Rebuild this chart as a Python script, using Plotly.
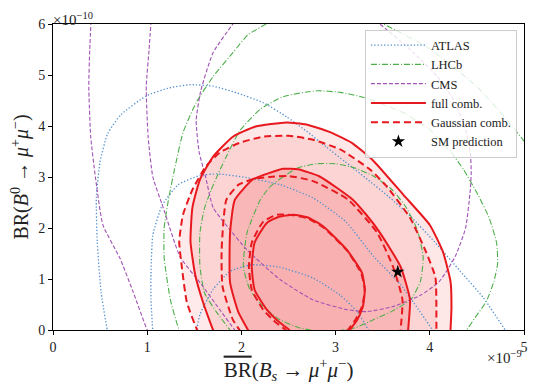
import plotly.graph_objects as go

# ── Contour points (x in units of 1e-9, y in 1e-10) ──────────────────────────
ATLAS_1_X = [1.52, 1.56, 1.70, 1.88, 2.11, 2.41, 2.76, 3.05, 3.23, 3.35, 3.38]
ATLAS_1_Y = [-0.05, 0.30, 0.80, 1.15, 1.28, 1.23, 1.02, 0.68, 0.36, 0.00, -0.05]

ATLAS_2_X = [1.06, 1.04, 1.04, 1.06, 1.16, 1.33, 1.56, 1.75, 2.05, 2.41, 2.76,
             3.11, 3.40, 3.69, 3.88, 4.03, 4.05]
ATLAS_2_Y = [-0.05, 0.60, 1.10, 1.86, 2.45, 2.85, 3.03, 3.06, 2.99, 2.85, 2.59,
             2.12, 1.45, 0.89, 0.40, 0.00, -0.05]

ATLAS_3_X = [0.58, 0.51, 0.47, 0.46, 0.50, 0.58, 0.72, 0.99, 1.24, 1.46, 1.70,
             1.95, 2.23, 2.48, 2.69, 2.90, 3.10, 3.32, 3.56, 3.80, 4.05, 4.32,
             4.57, 4.80, 4.82]
ATLAS_3_Y = [-0.05, 0.75, 1.73, 2.60, 3.30, 3.85, 4.22, 4.59, 4.75, 4.81, 4.78,
             4.65, 4.46, 4.18, 3.90, 3.59, 3.30, 2.98, 2.62, 2.22, 1.73, 1.16,
             0.63, 0.00, -0.05]

LHCB_1_X = [2.20, 2.30, 2.44, 2.60, 2.80, 3.00, 3.20, 3.40, 3.60, 3.75, 3.87,
            3.93, 3.90, 3.80, 3.60, 3.40, 3.20, 2.90, 2.62, 2.41, 2.23, 2.09,
            2.02, 2.06, 2.20]
LHCB_1_Y = [2.55, 2.80, 3.00, 3.18, 3.26, 3.26, 3.18, 3.02, 2.75, 2.40, 1.95,
            1.42, 0.95, 0.60, 0.37, 0.20, 0.04, -0.04, 0.04, 0.20, 0.46, 0.79,
            1.24, 1.91, 2.55]

LHCB_2_X = [1.90, 1.74, 1.61, 1.56, 1.56, 1.61, 1.68, 1.75, 1.84, 1.98, 2.20,
            2.45, 2.80, 3.05, 3.30, 3.72, 4.00, 4.22, 4.36, 4.50, 4.63, 4.71,
            4.72, 4.68, 4.60, 4.48, 4.39, 4.36]
LHCB_2_Y = [-0.05, 0.34, 0.72, 1.24, 1.91, 2.40, 2.75, 3.05, 3.40, 3.90, 4.33,
            4.58, 4.69, 4.66, 4.56, 4.26, 3.93, 3.50, 3.14, 2.69, 2.20, 1.70,
            1.30, 0.95, 0.56, 0.24, 0.00, -0.05]

LHCB_3_X = [1.38, 1.34, 1.25, 1.18, 1.18, 1.23, 1.29, 1.38, 1.52, 1.70, 1.91,
            2.07, 2.26, 2.38, None, 3.35, 3.51, 3.97, 4.50, 4.82, 4.99, 5.15]
LHCB_3_Y = [-0.10, 0.00, 0.56, 1.41, 2.00, 2.60, 3.15, 3.87, 4.46, 4.97, 5.44,
            5.79, 6.00, 6.20, None, 6.20, 6.00, 5.55, 4.77, 4.12, 3.73, 3.40]

CMS_1_X = [2.05, 1.91, 1.70, 1.57, 1.52, 1.55, 1.62, 1.70, 1.85, 2.06, 2.41,
           2.76, 3.12, 3.33, 3.61, 3.90, 4.10, 4.27, 4.38, 4.43, 4.44, 4.43,
           4.38, 4.27, 4.08, 3.79, 3.47, 3.30]
CMS_1_Y = [6.30, 6.00, 5.44, 4.70, 4.12, 3.50, 3.00, 2.40, 2.03, 1.57, 0.99,
           0.59, 0.40, 0.36, 0.46, 0.68, 0.95, 1.44, 2.00, 2.75, 3.10, 3.47,
           3.93, 4.46, 4.97, 5.50, 6.00, 6.25]

CMS_2_X = [1.05, 1.02, 0.99, 1.01, 1.06, 1.17, 1.35, 1.56, 1.77, 1.93, 1.98]
CMS_2_Y = [6.30, 5.50, 4.77, 3.79, 3.00, 2.40, 1.43, 0.93, 0.40, 0.00, -0.10]

CMS_3_X = [0.41, 0.39, 0.38, 0.40, 0.45, 0.53, 0.71, 0.85, 1.00, 1.03]
CMS_3_Y = [6.30, 5.50, 4.77, 3.80, 3.00, 2.06, 1.41, 0.75, 0.00, -0.10]

FULL_3_X = [1.72, 1.70, 1.59, 1.51, 1.46, 1.48, 1.56, 1.70, 1.91, 2.15, 2.48,
            2.69, 2.94, 3.18, 3.40, 3.72, 4.00, 4.14, 4.22, 4.23, 4.22, 4.22]
FULL_3_Y = [-0.05, 0.00, 0.56, 1.08, 1.73, 2.40, 2.95, 3.40, 3.79, 3.99, 4.07,
            4.03, 3.88, 3.66, 3.32, 2.65, 2.06, 1.53, 0.95, 0.44, 0.00, -0.05]

FULL_2_X = [2.08, 2.07, 1.97, 1.88, 1.88, 1.93, 2.12, 2.30, 2.44, 2.60, 2.83,
            3.18, 3.33, 3.47, 3.69, 3.79, 3.77, 3.77]
FULL_2_Y = [-0.05, 0.00, 0.34, 0.93, 1.91, 2.55, 2.95, 3.08, 3.16, 3.15, 3.01,
            2.56, 2.25, 1.91, 1.24, 0.59, 0.00, -0.05]

FULL_1_X = [2.52, 2.51, 2.41, 2.27, 2.14, 2.11, 2.14, 2.27, 2.40, 2.55, 2.70,
            2.87, 3.12, 3.28, 3.31, 3.29, 3.23, 3.15, 3.13]
FULL_1_Y = [-0.05, 0.00, 0.14, 0.40, 0.79, 1.24, 1.71, 2.10, 2.22, 2.26, 2.21,
            2.03, 1.57, 1.12, 0.79, 0.46, 0.20, 0.00, -0.05]

GAUSS_3_X = [1.55, 1.53, 1.42, 1.37, 1.34, 1.38, 1.48, 1.62, 1.77, 1.98, 2.23,
             2.50, 2.76, 3.05, 3.37, 3.54, 3.79, 3.96, 4.06, 4.07, 4.07, 4.07]
GAUSS_3_Y = [-0.05, 0.00, 0.55, 1.20, 1.73, 2.26, 2.75, 3.20, 3.48, 3.67, 3.79,
             3.81, 3.73, 3.54, 3.14, 2.82, 2.20, 1.53, 1.03, 0.44, 0.00, -0.05]

GAUSS_2_X = [1.99, 1.98, 1.91, 1.80, 1.79, 1.84, 1.97, 2.15, 2.30, 2.50, 2.76,
             3.13, 3.44, 3.61, 3.71, 3.69, 3.69]
GAUSS_2_Y = [-0.05, 0.00, 0.20, 0.85, 1.57, 2.55, 2.85, 2.97, 3.00, 3.02, 2.92,
             2.56, 1.91, 1.24, 0.59, 0.00, -0.05]

GAUSS_1_X = [2.48, 2.47, 2.37, 2.23, 2.11, 2.08, 2.11, 2.23, 2.38, 2.55, 2.70,
             2.87, 3.12, 3.27, 3.31, 3.28, 3.21, 3.13, 3.11]
GAUSS_1_Y = [-0.05, 0.00, 0.14, 0.40, 0.79, 1.24, 1.71, 2.12, 2.26, 2.25, 2.19,
             2.01, 1.56, 1.12, 0.79, 0.46, 0.20, 0.00, -0.05]

SM_X = [3.66]
SM_Y = [1.14]

X_TICKS = [0, 1, 2, 3, 4, 5]
Y_TICKS = [0, 1, 2, 3, 4, 5, 6]

# ── Styling ───────────────────────────────────────────────────────────────────
COLORS = {
    "atlas": "#4f8fd0",
    "lhcb":  "#4daf4a",
    "cms":   "#a052b4",
    "red":   "#e8191e",
}
SERIF = "Liberation Serif, Times New Roman, serif"
SMOOTH = dict(shape="spline", smoothing=0.5)


def fill_trace(x, y, alpha):
    return go.Scatter(
        x=x, y=y, mode="lines", fill="toself",
        fillcolor=f"rgba(240, 20, 20, {alpha})",
        line=dict(width=0, **SMOOTH),
        showlegend=False, hoverinfo="skip",
    )


def line_trace(x, y, name, color, width, dash, show):
    return go.Scatter(
        x=x, y=y, mode="lines", name=name, legendgroup=name,
        showlegend=show,
        line=dict(color=color, width=width, dash=dash, **SMOOTH),
        hoverinfo="skip",
    )


fig = go.Figure()

# Filled confidence regions
fig.add_trace(fill_trace(GAUSS_3_X, GAUSS_3_Y, 0.09))
fig.add_trace(fill_trace(FULL_3_X, FULL_3_Y, 0.10))
fig.add_trace(fill_trace(FULL_2_X, FULL_2_Y, 0.15))
fig.add_trace(fill_trace(FULL_1_X, FULL_1_Y, 0.04))

# Experiments
exps = [
    ("ATLAS", COLORS["atlas"], "1.3px,2px", 1.3,
     [(ATLAS_1_X, ATLAS_1_Y), (ATLAS_2_X, ATLAS_2_Y), (ATLAS_3_X, ATLAS_3_Y)]),
    ("LHCb", COLORS["lhcb"], "6px,2px,1px,2px", 1.1,
     [(LHCB_1_X, LHCB_1_Y), (LHCB_2_X, LHCB_2_Y), (LHCB_3_X, LHCB_3_Y)]),
    ("CMS", COLORS["cms"], "4px,2px", 1.1,
     [(CMS_1_X, CMS_1_Y), (CMS_2_X, CMS_2_Y), (CMS_3_X, CMS_3_Y)]),
]
for name, color, dash, width, curves in exps:
    for i, (cx, cy) in enumerate(curves):
        fig.add_trace(line_trace(cx, cy, name, color, width, dash, i == 0))

# Combinations
for i, (cx, cy) in enumerate([(FULL_1_X, FULL_1_Y), (FULL_2_X, FULL_2_Y), (FULL_3_X, FULL_3_Y)]):
    fig.add_trace(line_trace(cx, cy, "full comb.", COLORS["red"], 2, "solid", i == 0))
for i, (cx, cy) in enumerate([(GAUSS_1_X, GAUSS_1_Y), (GAUSS_2_X, GAUSS_2_Y), (GAUSS_3_X, GAUSS_3_Y)]):
    fig.add_trace(line_trace(cx, cy, "Gaussian comb.", COLORS["red"], 2, "7px,4px", i == 0))

# SM point
fig.add_trace(go.Scatter(
    x=SM_X, y=SM_Y, mode="markers", name="SM prediction",
    marker=dict(symbol="star", size=10, color="black"),
    hoverinfo="skip",
))

axis_common = dict(
    showgrid=False, zeroline=False, automargin=False,
    showline=True, mirror=True, linecolor="black", linewidth=1,
    ticks="outside", ticklen=4, tickcolor="black",
    tickfont=dict(family=SERIF, size=14, color="#222"),
)

# the page body adds an 8px offset, so the figure is 8px smaller than the window
fig.update_layout(
    width=531, height=382,
    paper_bgcolor="white", plot_bgcolor="white",
    margin=dict(l=45, r=15, t=16, b=60),
    font=dict(family=SERIF, color="#222"),
    xaxis=dict(
        range=[0, 5], tickvals=X_TICKS, **axis_common,
        title=dict(
            text="<span style='text-decoration:overline'>BR</span>"
                 "(<i>B<sub>s</sub></i> → <i>μ</i><sup>+</sup><i>μ</i><sup>−</sup>)",
            font=dict(family=SERIF, size=21), standoff=0,
        ),
    ),
    yaxis=dict(
        range=[0, 6], tickvals=Y_TICKS, **axis_common,
        title=dict(
            text="BR(<i>B</i><sup>0</sup> → <i>μ</i><sup>+</sup><i>μ</i><sup>−</sup>)",
            font=dict(family=SERIF, size=20), standoff=12,
        ),
    ),
    legend=dict(
        x=0.985, y=0.982, xanchor="right", yanchor="top",
        bgcolor="rgba(255,255,255,0.82)", bordercolor="#cccccc", borderwidth=1,
        font=dict(family=SERIF, size=12.5, color="#222"),
        itemwidth=55, tracegroupgap=0,
    ),
    annotations=[
        dict(text="×10<sup>−10</sup>", xref="paper", yref="paper", x=-0.003, y=1.05,
             xanchor="left", yanchor="top", showarrow=False, borderpad=0,
             font=dict(family=SERIF, size=15, color="#222")),
        dict(text="×10<sup>−9</sup>", xref="paper", yref="paper", x=0.998, y=-0.056,
             xanchor="right", yanchor="top", showarrow=False, borderpad=0,
             font=dict(family=SERIF, size=15, color="#222")),
    ],
)

fig.write_html("out.html")
